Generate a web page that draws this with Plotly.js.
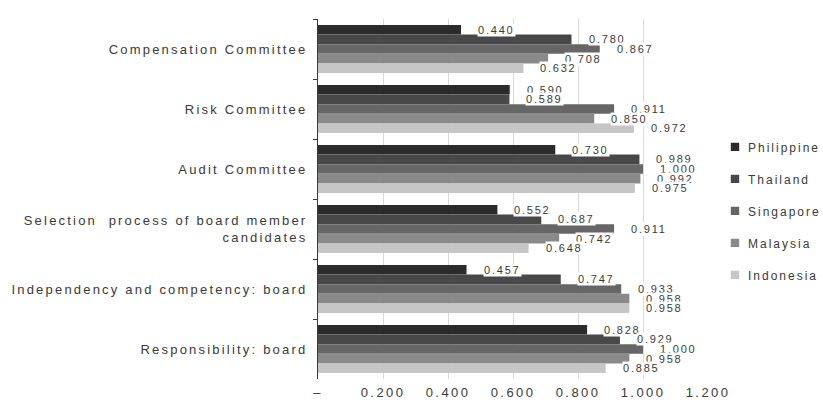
<!DOCTYPE html>
<html>
<head>
<meta charset="utf-8">
<script src="https://cdn.plot.ly/plotly-3.0.1.min.js"></script>
<style>
  html, body { margin: 0; padding: 0; background: #fff; }
  #chart { width: 823px; height: 400px; }
  .ytick text { letter-spacing: 2.2px; }
  .xtick text { letter-spacing: 2.4px; }
  .legendtext { letter-spacing: 2px; }
  .annotation-text { letter-spacing: 1.8px; }
  .legendpoints path { transform: translate(27px, 0px) scale(0.7); }
</style>
</head>
<body>
<div id="chart"></div>
<script>
const categories = [
  "Compensation Committee",
  "Risk Committee",
  "Audit Committee",
  "Selection  process of board member<br>candidates",
  "Independency and competency: board",
  "Responsibility: board"
];
const seriesNames = ["Philippine", "Thailand", "Singapore", "Malaysia", "Indonesia"];
const philippine = [0.440, 0.590, 0.730, 0.552, 0.457, 0.828];
const thailand   = [0.780, 0.589, 0.989, 0.687, 0.747, 0.929];
const singapore  = [0.867, 0.911, 1.000, 0.911, 0.933, 1.000];
const malaysia   = [0.708, 0.850, 0.992, 0.742, 0.958, 0.958];
const indonesia  = [0.632, 0.972, 0.975, 0.648, 0.958, 0.885];
const seriesColors = ["#2b2b2b", "#484848", "#666666", "#8a8a8a", "#c6c6c6"];
const xTickVals = [0, 0.2, 0.4, 0.6, 0.8, 1.0, 1.2];
const xTickText = ["–", "0.200", "0.400", "0.600", "0.800", "1.000", "1.200"];

const series = [philippine, thailand, singapore, malaysia, indonesia];
const fontFam = "Liberation Sans, Arial, sans-serif";
const bargap = 0.2;

const traces = series.map((vals, i) => ({
  type: "bar",
  orientation: "h",
  name: seriesNames[i],
  legendgroup: "g" + i,
  x: vals,
  y: categories,
  marker: { color: seriesColors[i], line: { width: 0 } },
  hoverinfo: "x+name"
}));

const n = series.length;
const slot = (1 - bargap) / n;
const annotations = [];
series.forEach((vals, i) => {
  vals.forEach((v, c) => {
    annotations.push({
      x: v,
      y: c - (1 - bargap) / 2 + slot * (i + 0.5),
      xref: "x", yref: "y",
      text: v.toFixed(3),
      showarrow: false,
      xanchor: "left",
      yanchor: "middle",
      xshift: 16,
      bgcolor: "#ffffff",
      borderpad: 0,
      font: { family: fontFam, size: 11, color: "#3a3a3a" }
    });
  });
});

const layout = {
  width: 823,
  height: 400,
  margin: { l: 318, r: 115, t: 19, b: 21, autoexpand: false },
  paper_bgcolor: "#ffffff",
  plot_bgcolor: "#ffffff",
  barmode: "group",
  bargap: bargap,
  bargroupgap: 0,
  showlegend: true,
  legend: {
    x: 1.0, xanchor: "left",
    y: 0.467, yanchor: "middle",
    traceorder: "grouped",
    tracegroupgap: 13,
    font: { family: fontFam, size: 12, color: "#3a3a3a" },
    bgcolor: "rgba(0,0,0,0)"
  },
  xaxis: {
    range: [0, 1.2],
    tickvals: xTickVals,
    ticktext: xTickText,
    showgrid: true,
    gridcolor: "#d9d9d9",
    gridwidth: 1,
    zeroline: false,
    showline: false,
    ticks: "",
    ticklabelstandoff: 4,
    tickfont: { family: fontFam, size: 13, color: "#3a3a3a" },
    fixedrange: true
  },
  yaxis: {
    type: "category",
    autorange: "reversed",
    showgrid: false,
    zeroline: false,
    showline: true,
    linecolor: "#3a3a3a",
    linewidth: 1,
    ticks: "outside",
    tickson: "boundaries",
    ticklen: 4,
    tickcolor: "#3a3a3a",
    ticklabelstandoff: 7,
    tickfont: { family: fontFam, size: 13, color: "#3a3a3a" },
    fixedrange: true
  },
  annotations: annotations
};

Plotly.newPlot("chart", traces, layout, { displayModeBar: false, staticPlot: true });
</script>
</body>
</html>
